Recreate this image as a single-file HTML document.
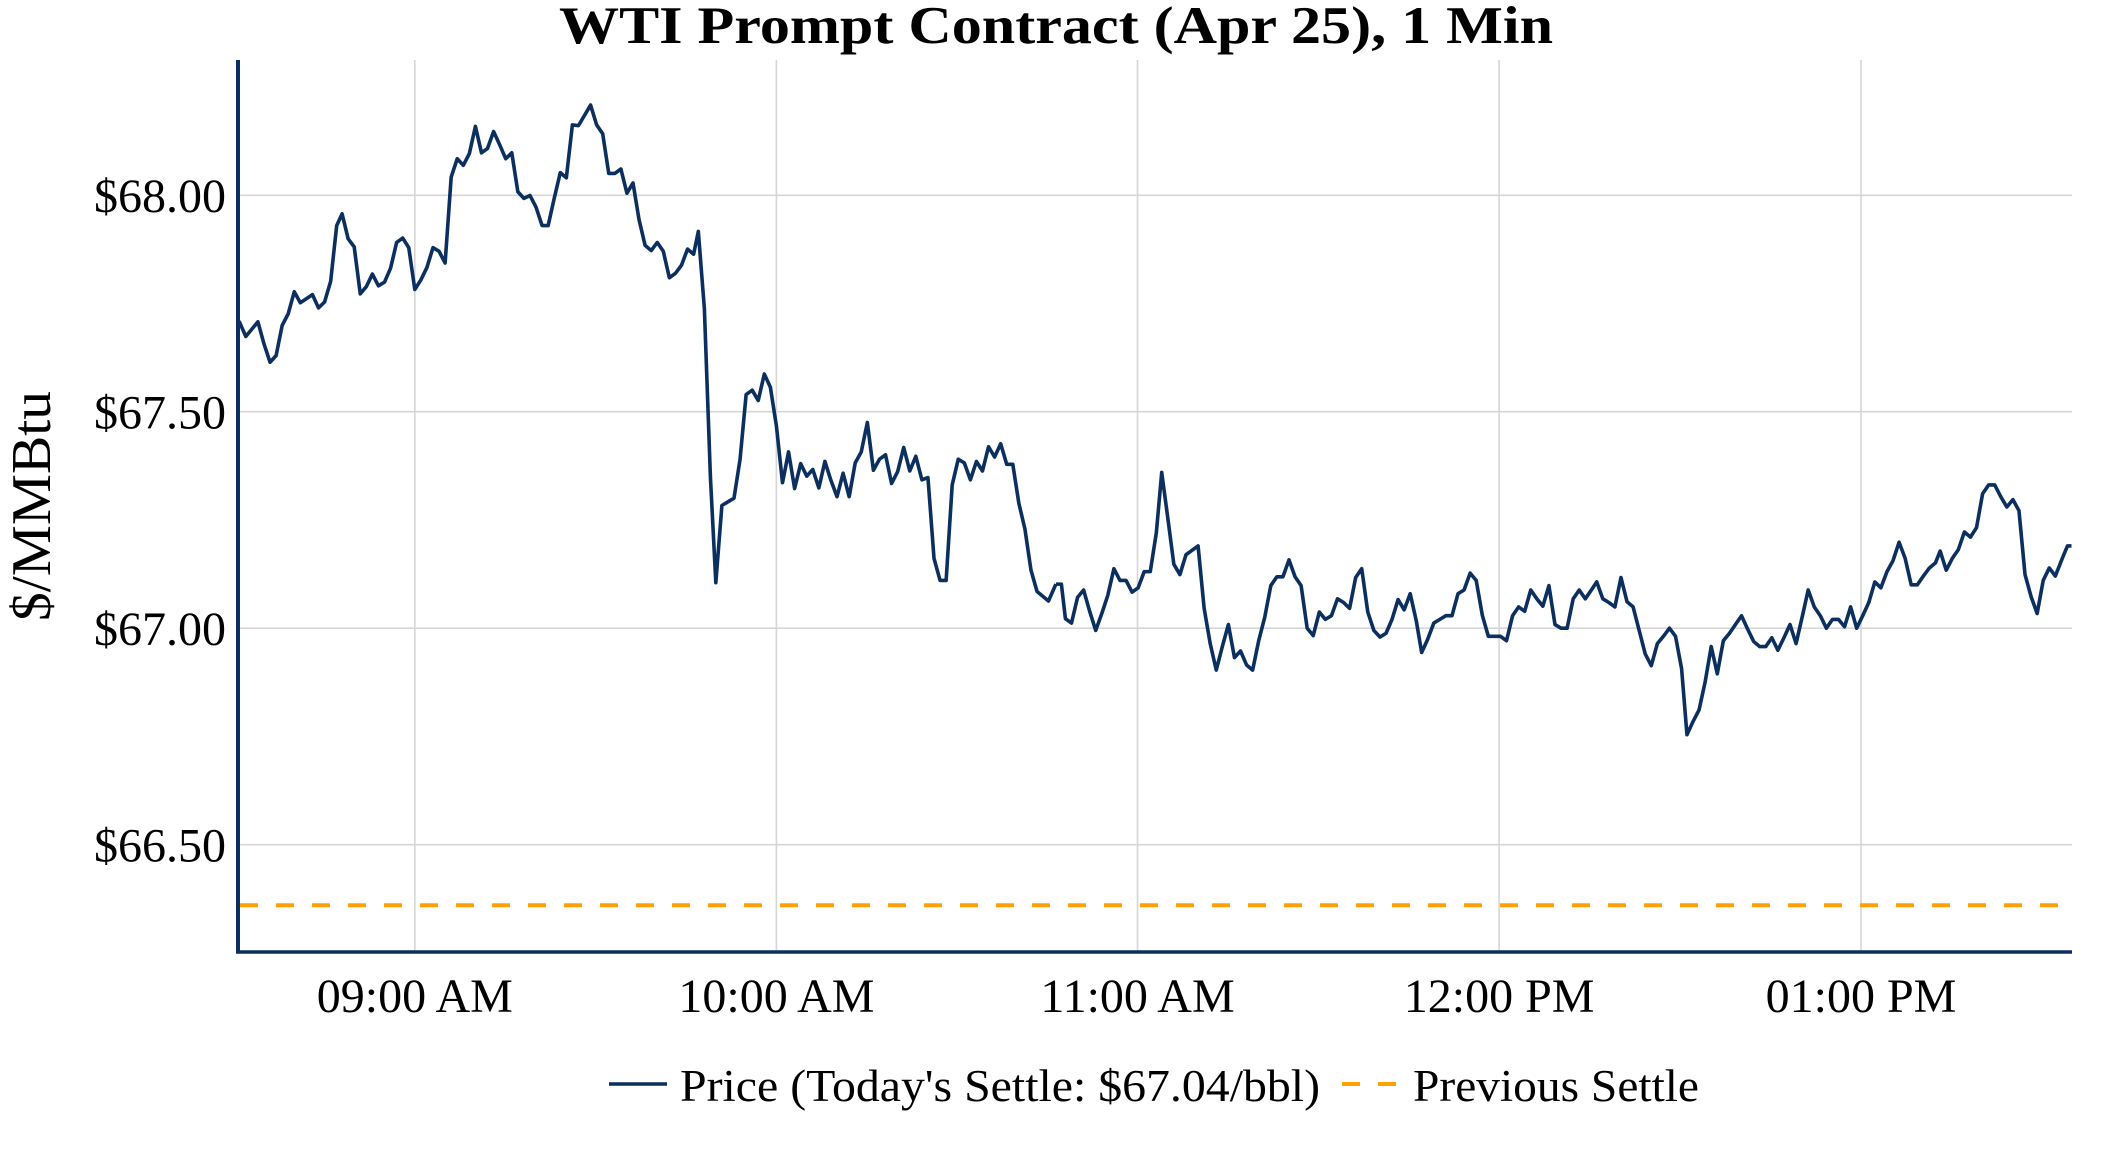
<!DOCTYPE html>
<html><head><meta charset="utf-8"><style>
html,body{margin:0;padding:0;background:#fff;}
svg{display:block;}
text{font-family:"Liberation Serif",serif;fill:#000;}
</style></head><body>
<svg width="2112" height="1152" viewBox="0 0 2112 1152" xmlns="http://www.w3.org/2000/svg">
<rect width="2112" height="1152" fill="#fff"/>
<text x="1056" y="43" font-size="53" font-weight="bold" text-anchor="middle" textLength="994" lengthAdjust="spacingAndGlyphs">WTI Prompt Contract (Apr 25), 1 Min</text>
<g stroke="#d6d6d6" stroke-width="1.6">
<line x1="238" y1="195.3" x2="2072" y2="195.3"/>
<line x1="238" y1="411.7" x2="2072" y2="411.7"/>
<line x1="238" y1="628.2" x2="2072" y2="628.2"/>
<line x1="238" y1="844.7" x2="2072" y2="844.7"/>
<line x1="414.8" y1="60" x2="414.8" y2="952"/>
<line x1="776.4" y1="60" x2="776.4" y2="952"/>
<line x1="1137.5" y1="60" x2="1137.5" y2="952"/>
<line x1="1499.1" y1="60" x2="1499.1" y2="952"/>
<line x1="1861" y1="60" x2="1861" y2="952"/>
</g>
<line x1="240" y1="905.3" x2="2060" y2="905.3" stroke="#ffa000" stroke-width="4" stroke-dasharray="18 18"/>
<g transform="scale(0.67340,0.73475)">
<polyline fill="none" stroke="#0b2f5e" stroke-width="3.6" vector-effect="non-scaling-stroke" stroke-linejoin="round" points="
355,437 365,458 383,438 392,468 401,493 410,484 419,443 428,427 437,397 446,412 464,401 473,419 482,411 491,383 500,307 508,291 517,325 526,336 535,400 544,390 553,373 562,389 571,384 580,365 589,330 598,324 607,337 616,394 625,381 634,364 643,337 652,342 661,358 670,241 679,216 688,225 697,209 706,172 715,208 724,202 733,179 742,197 751,216 760,208 769,261 778,270 787,266 796,282 805,307 814,307 823,270 832,235 841,242 850,170 859,171 868,157 877,143 886,170 895,182 904,236 913,236 922,230 931,263 940,249 949,299 958,334 967,341 976,330 985,342 994,378 1003,372 1012,361 1021,339 1030,346 1037,315 1046,420 1055,650 1063,793 1072,688 1081,683 1090,678 1099,625 1108,537 1117,531 1126,545 1135,509 1144,527 1153,580 1162,657 1171,615 1180,665 1189,631 1198,648 1207,639 1216,664 1225,628 1234,654 1243,676 1252,644 1261,676 1270,630 1279,615 1288,575 1297,640 1306,625 1315,619 1324,658 1333,642 1342,609 1351,641 1360,621 1369,653 1378,650 1387,760 1396,790 1405,790 1414,660 1423,625 1432,630 1441,653 1450,628 1459,641 1468,608 1477,622 1486,604 1495,632 1504,632 1513,685 1522,720 1531,776 1540,805 1557,818 1568,795"/>
</g>
<g transform="translate(1056,0) scale(0.67340,0.73475)">
<polyline fill="none" stroke="#0b2f5e" stroke-width="3.6" vector-effect="non-scaling-stroke" stroke-linejoin="round" points="
0,795 8,795 14,842 23,848 32,813 41,803 50,832 59,858 68,835 77,810 86,774 95,790 104,790 113,806 122,800 131,778 140,778 149,725 157,643 166,705 175,768 184,782 193,755 202,749 211,743 220,828 229,876 238,912 247,880 256,850 265,895 274,886 283,905 292,912 301,872 310,840 319,797 328,785 337,785 346,762 355,785 364,797 373,855 382,865 391,833 400,843 409,838 418,815 427,820 436,828 445,786 454,774 463,833 472,858 481,867 490,862 499,843 508,816 517,830 526,808 535,845 543,888 552,870 561,848 570,843 579,838 588,838 597,808 606,803 615,780 624,790 633,837 642,866 651,866 660,866 669,872 678,838 687,826 696,832 705,803 714,815 723,825 732,797 741,850 750,855 759,855 768,815 777,803 786,815 795,803 803,792 812,815 821,820 830,826 839,786 848,819 857,826 866,858 875,890 884,906 893,876 902,866 911,855 920,866 929,910 937,1000 946,982 955,966 964,928 973,880 982,917 991,872 1000,862 1009,850 1018,838 1027,856 1036,873 1045,880 1054,880 1063,868 1072,885 1081,868 1090,850 1099,876 1108,840 1117,803 1126,826 1135,838 1144,855 1153,843 1162,843 1171,853 1180,826 1189,855 1198,838 1207,820 1216,792 1225,800 1234,778 1243,763 1252,738 1261,760 1270,796 1279,796 1288,784 1297,773 1306,766 1313,750 1322,776 1331,760 1340,748 1349,724 1358,731 1367,718 1376,672 1385,660 1394,660 1403,676 1412,690 1421,680 1430,695 1439,782 1448,812 1457,835 1466,790 1475,773 1484,784 1493,763 1502,743 1508,743"/>
</g>
<line x1="238" y1="60" x2="238" y2="953.5" stroke="#0b2f5e" stroke-width="4"/>
<line x1="236" y1="952" x2="2072" y2="952" stroke="#0b2f5e" stroke-width="3.5"/>
<g font-size="48" text-anchor="end">
<text x="226" y="212">$68.00</text>
<text x="226" y="428.5">$67.50</text>
<text x="226" y="645">$67.00</text>
<text x="226" y="861.5">$66.50</text>
</g>
<g font-size="48" text-anchor="middle">
<text x="414.8" y="1012">09:00 AM</text>
<text x="776.4" y="1012">10:00 AM</text>
<text x="1137.5" y="1012">11:00 AM</text>
<text x="1499.1" y="1012">12:00 PM</text>
<text x="1861" y="1012">01:00 PM</text>
</g>
<text transform="translate(50,506) rotate(-90)" font-size="56" text-anchor="middle" textLength="230" lengthAdjust="spacingAndGlyphs">$/MMBtu</text>
<line x1="609" y1="1084" x2="667" y2="1084" stroke="#0b2f5e" stroke-width="3.6"/>
<text x="680" y="1101" font-size="45" textLength="640" lengthAdjust="spacingAndGlyphs">Price (Today's Settle: $67.04/bbl)</text>
<line x1="1342" y1="1084" x2="1396" y2="1084" stroke="#ffa000" stroke-width="4" stroke-dasharray="18 18"/>
<text x="1413" y="1101" font-size="45" textLength="286" lengthAdjust="spacingAndGlyphs">Previous Settle</text>
</svg>
</body></html>
